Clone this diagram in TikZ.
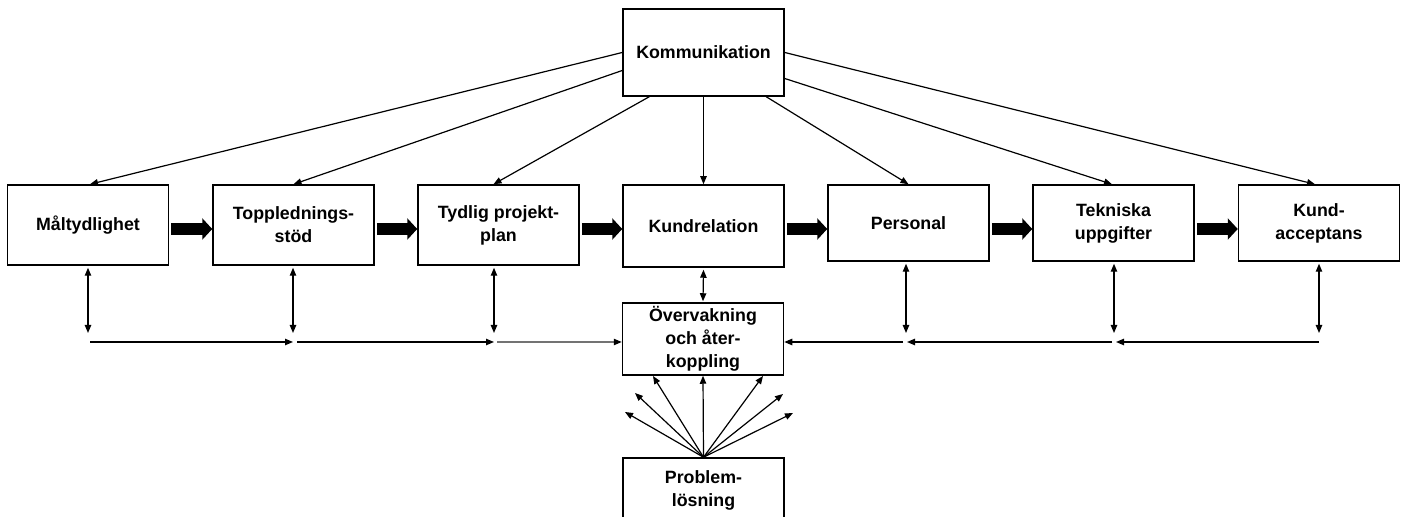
\documentclass[tikz,border=0pt]{standalone}
\usepackage{fontspec}
\setmainfont{Liberation Sans}
\usetikzlibrary{arrows.meta,calc}
\begin{document}
\begin{tikzpicture}[x=0.5pt,y=-0.5pt,
  >={Triangle[length=4pt,width=3.2pt]},
  box/.style={draw,line width=0.75pt,minimum width=80.5pt,inner sep=0pt,
    align=center,font=\fontsize{8.9}{11.5}\selectfont\bfseries},
  thin/.style={line width=0.6pt},
  blockarrow/.style={line width=6pt,shorten <=1pt,
    -{Triangle[length=5pt,width=10.5pt]}}]

\clip (0,0) rectangle (1404,517);

% main boxes
\node[box,minimum height=43.5pt] (kom) at (703.5,52.5) {Kommunikation};
\node[box,minimum height=40pt] (mal) at (88,225)    {Måltydlighet};
\node[box,minimum height=40pt] (top) at (293.5,225) {Topplednings-\\stöd};
\node[box,minimum height=40pt] (tyd) at (498.5,225) {Tydlig projekt-\\plan};
\node[box,minimum height=41pt] (kun) at (703.5,226) {Kundrelation};
\node[box,minimum height=38pt] (per) at (908.5,223) {Personal};
\node[box,minimum height=38pt] (tek) at (1113.5,223) {Tekniska\\uppgifter};
\node[box,minimum height=38pt] (acc) at (1319,223)  {Kund-\\acceptans};
\node[box,minimum height=36pt] (ove) at (703,339)   {Övervakning\\och åter-\\koppling};
\node[box,minimum height=32pt] (pro) at (703.5,490) {Problem-\\lösning};

% flow between the row boxes
\draw[blockarrow] (mal.east |- 0,229) -- (top.west |- 0,229);
\draw[blockarrow] (top.east |- 0,229) -- (tyd.west |- 0,229);
\draw[blockarrow] (tyd.east |- 0,229) -- (kun.west |- 0,229);
\draw[blockarrow] (kun.east |- 0,229) -- (per.west |- 0,229);
\draw[blockarrow] (per.east |- 0,229) -- (tek.west |- 0,229);
\draw[blockarrow] (tek.east |- 0,229) -- (acc.west |- 0,229);

% communication fans out to every box
\draw[thin,->] (kom.west) -- ($(mal.north)+(2,0)$);
\draw[thin,->] ($(kom.west)+(0,18)$) -- (top.north);
\draw[thin,->] ($(kom.south west)+(27,0)$) -- ($(tyd.north)+(-5,0)$);
\draw[thin,->] (kom.south) -- (kun.north);
\draw[thin,->] ($(kom.south west)+(144,0)$) -- (per.north);
\draw[thin,->] ($(kom.east)+(0,26)$) -- ($(tek.north)+(-1.5,0)$);
\draw[thin,->] (kom.east) -- ($(acc.north)+(-4,0)$);

% feedback bus
\coordinate (jm) at (88,342);
\coordinate (jp) at (293,342);
\coordinate (jt) at (494,342);
\coordinate (jq) at (906,342);
\coordinate (jk) at (1114,342);
\coordinate (ja) at (1319,342);

\foreach \j/\b in {jm/mal,jp/top,jt/tyd,jq/per,jk/tek,ja/acc}
  \draw[thin,<->] ($(\j |- \b.south)+(0,2)$) -- ($(\j)+(0,-9)$);

\draw[thin,->] ($(jm)+(2,0)$) -- (jp);
\draw[thin,->] ($(jp)+(4,0)$) -- (jt);
\draw[thin,black!55,-{Triangle[length=4pt,width=3.2pt,color=black]}]
  ($(jt)+(3,0)$) -- (ove.west |- jt);
\draw[thin,->] (ja) -- ($(jk)+(2,0)$);
\draw[thin,->] ($(jk)+(-2,0)$) -- ($(jq)+(1,0)$);
\draw[thin,->] ($(jq)+(-3,0)$) -- (ove.east |- jq);

\draw[thin,<->] ($(kun.south)+(0,2)$) -- ($(ove.north)+(0,-1)$);

% problem solving feeds back upwards
\coordinate (f1) at (625,412);
\coordinate (f2) at (635,393);
\coordinate (f3) at (653,376);
\coordinate (f5) at (763,376);
\coordinate (f6) at (783,394);
\coordinate (f7) at (793,413);
\foreach \f in {f1,f2,f3,f5,f6,f7}
  \draw[thin,->] (pro.north) -- (\f);
\draw[thin,->] (pro.north) -- (ove.south);

\end{tikzpicture}
\end{document}
